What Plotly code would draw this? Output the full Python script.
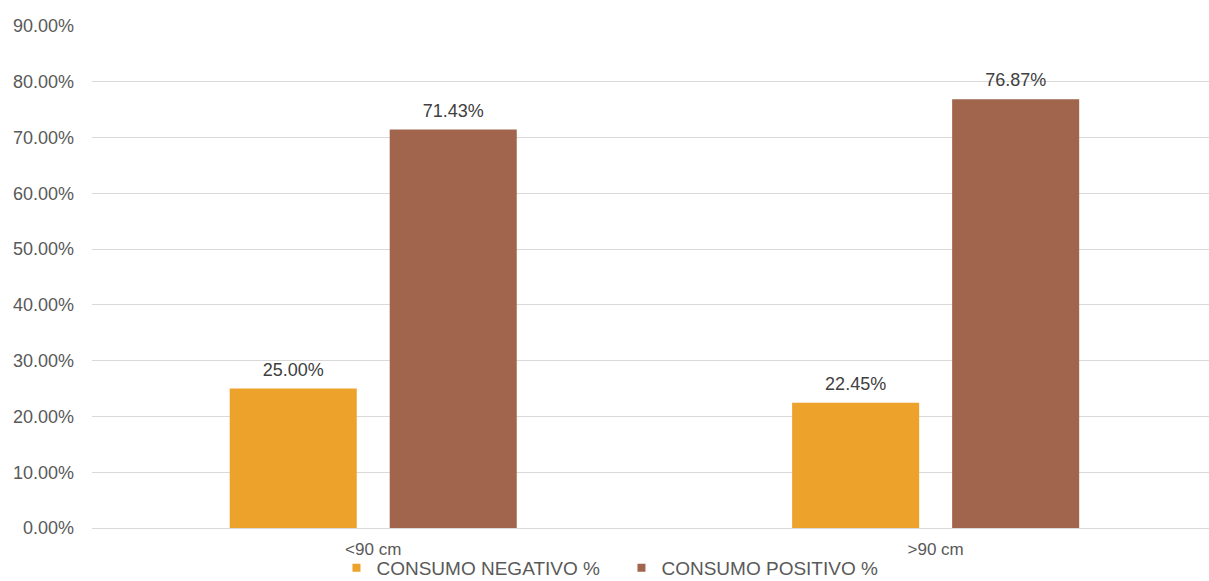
import plotly.graph_objects as go

categories = ["<90 cm", ">90 cm"]
negativo = [25.00, 22.45]
positivo = [71.43, 76.87]
series_names = ["CONSUMO NEGATIVO %", "CONSUMO POSITIVO %"]
colors = ["#EDA22B", "#A1644C"]
y_ticks = [0, 10, 20, 30, 40, 50, 60, 70, 80, 90]

FONT = "Liberation Sans, Arial, sans-serif"

fig = go.Figure()
for i, (vals, name, col) in enumerate(zip([negativo, positivo], series_names, colors)):
    fig.add_trace(go.Bar(
        x=categories, y=vals, name=name,
        marker=dict(color=col, line=dict(width=0)),
        offsetgroup=str(i), alignmentgroup="a",
        showlegend=False, hoverinfo="x+y",
    ))
# value labels, aligned with the bars via offset groups
for i, vals in enumerate([negativo, positivo]):
    fig.add_trace(go.Scatter(
        x=categories, y=vals, mode="markers+text",
        marker=dict(size=12, opacity=0),
        text=[f"{v:.2f}%" for v in vals], textposition="top center",
        textfont=dict(size=18, color="#404040", family=FONT),
        offsetgroup=str(i), alignmentgroup="a",
        cliponaxis=False, showlegend=False, hoverinfo="skip",
    ))
# legend entries with small square markers
for name, col in zip(series_names, colors):
    fig.add_trace(go.Scatter(
        x=[None], y=[None], mode="markers", name=name,
        marker=dict(symbol="square", size=8, color=col),
    ))

fig.update_layout(
    width=1209, height=581,
    margin=dict(l=92, r=0, t=26, b=53, autoexpand=False),
    paper_bgcolor="white", plot_bgcolor="white",
    barmode="group", bargap=0.431, bargroupgap=0.206,
    scattermode="group", scattergap=0.431,
    font=dict(family=FONT, size=17, color="#595959"),
    showlegend=True,
    legend=dict(orientation="h", x=0.474, xanchor="center", y=-0.0797, yanchor="middle",
                font=dict(size=19, color="#595959"), itemwidth=30,
                entrywidth=240, entrywidthmode="pixels",
                tracegroupgap=0, traceorder="normal", bgcolor="rgba(0,0,0,0)"),
    xaxis=dict(range=[-0.5, 1.486], showgrid=False, showline=False, ticks="",
               ticklabelstandoff=9, tickfont=dict(size=17, color="#595959")),
    yaxis=dict(range=[0, 90], tickvals=y_ticks, ticktext=[f"{v:.2f}%" for v in y_ticks],
               showgrid=True, gridcolor="#D9D9D9", gridwidth=1, zeroline=True,
               zerolinecolor="#D9D9D9", zerolinewidth=1, showline=False, ticks="",
               ticklabelstandoff=17,
               tickfont=dict(size=18, color="#595959"), automargin=False),
)

fig.write_html("out.html")
